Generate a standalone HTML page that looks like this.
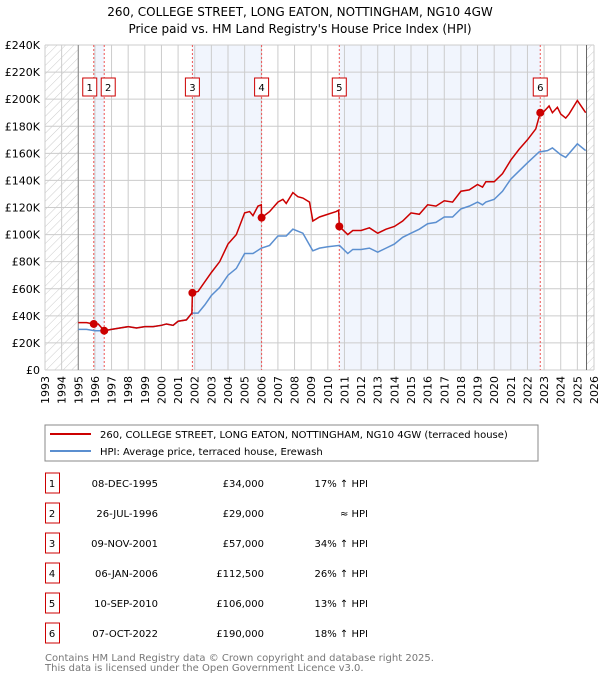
<!DOCTYPE html>
<html><head><meta charset="utf-8"><style>
body{margin:0;background:#fff;font-family:"DejaVu Sans","Liberation Sans",sans-serif;}
svg text{font-family:"DejaVu Sans","Liberation Sans",sans-serif;}
</style></head><body>
<svg id="c" width="600" height="680" xmlns="http://www.w3.org/2000/svg">
<defs><pattern id="hatch" width="6" height="6" patternUnits="userSpaceOnUse" patternTransform="rotate(45)"><line x1="0" y1="0" x2="0" y2="6" stroke="#ccc" stroke-width="1"/></pattern></defs>
<text x="300" y="16" text-anchor="middle" font-size="12" fill="#000">260, COLLEGE STREET, LONG EATON, NOTTINGHAM, NG10 4GW</text>
<text x="300" y="33" text-anchor="middle" font-size="12" fill="#000">Price paid vs. HM Land Registry's House Price Index (HPI)</text>
<g id="plot"></g>
<rect x="45" y="425" width="493" height="36" fill="#fff" stroke="#888"/>
<line x1="50" y1="434" x2="91" y2="434" stroke="#cc0000" stroke-width="2"/>
<text x="100" y="438" font-size="10">260, COLLEGE STREET, LONG EATON, NOTTINGHAM, NG10 4GW (terraced house)</text>
<line x1="50" y1="451" x2="91" y2="451" stroke="#5b8fd0" stroke-width="2"/>
<text x="100" y="455" font-size="10">HPI: Average price, terraced house, Erewash</text>
<g id="table" font-size="10"></g>
<text x="45" y="661" font-size="10" fill="#777">Contains HM Land Registry data © Crown copyright and database right 2025.</text>
<text x="45" y="671" font-size="10" fill="#777">This data is licensed under the Open Government Licence v3.0.</text>
</svg>
<script>
const yTicks=[0,20,40,60,80,100,120,140,160,180,200,220,240];
const years=[1993,1994,1995,1996,1997,1998,1999,2000,2001,2002,2003,2004,2005,2006,2007,2008,2009,2010,2011,2012,2013,2014,2015,2016,2017,2018,2019,2020,2021,2022,2023,2024,2025,2026];
const priceT=[1995.0,1995.5,1995.93,1996.2,1996.56,1997,1997.5,1998,1998.5,1999,1999.5,2000,2000.3,2000.7,2001,2001.5,2001.83,2001.86,2002.2,2002.6,2003,2003.5,2004,2004.5,2005,2005.3,2005.5,2005.8,2006.0,2006.02,2006.5,2007,2007.3,2007.5,2007.9,2008.2,2008.5,2008.9,2009.1,2009.5,2010,2010.5,2010.65,2010.69,2011.2,2011.5,2012,2012.5,2013,2013.5,2014,2014.5,2015,2015.5,2016,2016.5,2017,2017.5,2018,2018.5,2019,2019.3,2019.5,2020,2020.5,2021,2021.5,2022,2022.5,2022.77,2023,2023.3,2023.5,2023.8,2024,2024.3,2024.5,2025,2025.5];
const priceV=[35,35,34,34,29,30,31,32,31,32,32,33,34,33,36,37,42,57,58,65,72,80,93,100,116,117,114,121,122,112.5,117,124,126,123,131,128,127,124,110,113,115,117,118,106,100,103,103,105,101,104,106,110,116,115,122,121,125,124,132,133,137,135,139,139,145,155,163,170,178,190,191,195,190,194,189,186,189,199,190];
const hpiT=[1995.0,1995.5,1996,1996.56,1997,1997.5,1998,1998.5,1999,1999.5,2000,2000.3,2000.7,2001,2001.5,2001.83,2002.2,2002.6,2003,2003.5,2004,2004.5,2005,2005.5,2006,2006.5,2007,2007.5,2007.9,2008.5,2009.1,2009.5,2010,2010.7,2011.2,2011.5,2012,2012.5,2013,2013.5,2014,2014.5,2015,2015.5,2016,2016.5,2017,2017.5,2018,2018.5,2019,2019.3,2019.5,2020,2020.5,2021,2021.5,2022,2022.7,2023.2,2023.5,2024,2024.3,2025,2025.5];
const hpiV=[30,30,29,29,30,31,32,31,32,32,33,34,33,36,37,42,42,48,55,61,70,75,86,86,90,92,99,99,104,101,88,90,91,92,86,89,89,90,87,90,93,98,101,104,108,109,113,113,119,121,124,122,124,126,132,141,147,153,161,162,164,159,157,167,162];
const saleT=[1995.93,1996.56,2001.86,2006.02,2010.69,2022.77];
const saleV=[34,29,57,112.5,106,190];
const saleLabels=["1","2","3","4","5","6"];
const saleDates=["08-DEC-1995","26-JUL-1996","09-NOV-2001","06-JAN-2006","10-SEP-2010","07-OCT-2022"];
const salePrices=["£34,000","£29,000","£57,000","£112,500","£106,000","£190,000"];
const saleRel=["17% ↑ HPI","≈ HPI","34% ↑ HPI","26% ↑ HPI","13% ↑ HPI","18% ↑ HPI"];

const NS="http://www.w3.org/2000/svg";
const X0=45,X1=594,Y0=370,Y1=45;
const x=t=>X0+(t-1993)/(2026-1993)*(X1-X0);
const y=v=>Y0-v/240*(Y0-Y1);
const g=document.getElementById('plot');
function mk(tag,attrs,parent){const e=document.createElementNS(NS,tag);for(const k in attrs)e.setAttribute(k,attrs[k]);(parent||g).appendChild(e);return e;}

// shaded bands between alternating sales
for(let i=0;i<saleT.length;i+=2){
  const r=mk('rect',{x:x(saleT[i]),y:Y1,width:x(saleT[i+1])-x(saleT[i]),height:Y0-Y1,fill:'#eef3fc',opacity:0.8});
  
  
}
// hatched areas
const h1=mk('rect',{x:X0,y:Y1,width:x(1995)-X0,height:Y0-Y1,fill:'url(#hatch)'});


const h2=mk('rect',{x:x(2025.55),y:Y1,width:X1-x(2025.55),height:Y0-Y1,fill:'url(#hatch)'});


// grid
years.forEach(yr=>{
  const l=mk('line',{x1:x(yr),x2:x(yr),y1:Y1,y2:Y0,stroke:'#ccc','stroke-width':1});
  
  
  const t=mk('text',{x:0,y:0,'font-size':11,'text-anchor':'end',transform:`translate(${x(yr)+4},${Y0+6}) rotate(-90)`});
  t.textContent=yr;
  
  
});
yTicks.forEach(v=>{
  const l=mk('line',{x1:X0,x2:X1,y1:y(v),y2:y(v),stroke:'#ccc','stroke-width':1});
  
  
  const t=mk('text',{x:X0-5,y:y(v)+4,'font-size':11,'text-anchor':'end'});
  t.textContent=v===0?'£0':'£'+v+'K';
  
  
});
const b1=mk('line',{x1:x(1995),x2:x(1995),y1:Y1,y2:Y0,stroke:'#888'});


const b2=mk('line',{x1:x(2025.55),x2:x(2025.55),y1:Y1,y2:Y0,stroke:'#666'});


// sale vertical lines
saleT.forEach(t=>{
  const l=mk('line',{x1:x(t),x2:x(t),y1:Y1,y2:Y0,stroke:'#e55','stroke-width':1,'stroke-dasharray':'2,2'});
  
  
});
const hp=mk('polyline',{points:hpiT.map((t,i)=>x(t)+','+y(hpiV[i])).join(' '),fill:'none',stroke:'#5b8fd0','stroke-width':1.5});


const pp=mk('polyline',{points:priceT.map((t,i)=>x(t)+','+y(priceV[i])).join(' '),fill:'none',stroke:'#cc0000','stroke-width':1.5});


saleT.forEach((t,i)=>{
  const d=mk('circle',{cx:x(t),cy:y(saleV[i]),r:4,fill:'#cc0000'});
  
  
  let bx=x(t)-7; if(i===0)bx=x(t)-11; if(i===1)bx=x(t)-3;
  const r=mk('rect',{x:bx,y:78,width:14,height:18,fill:'#fff',stroke:'#cc0000'});
  
  
  const tx=mk('text',{x:bx+7,y:91,'font-size':10,'text-anchor':'middle'});
  tx.textContent=saleLabels[i];
  
  
});
// table
const tb=document.getElementById('table');
saleT.forEach((t,i)=>{
  const cy=483+i*30;
  const r=mk('rect',{x:45.5,y:cy-10,width:14,height:20,fill:'#fff',stroke:'#cc0000'},tb);
  
  
  const cells=[[52,'middle',saleLabels[i],'table-row-number'],[158,'end',saleDates[i],'table-sale-date'],[264,'end',salePrices[i],'table-sale-price'],[368,'end',saleRel[i],'table-hpi-relation']];
  cells.forEach(c=>{
    const e=mk('text',{x:c[0],y:cy+4,'text-anchor':c[1]},tb);
    e.textContent=c[2];
    
    
  });
});
</script>
</body></html>
